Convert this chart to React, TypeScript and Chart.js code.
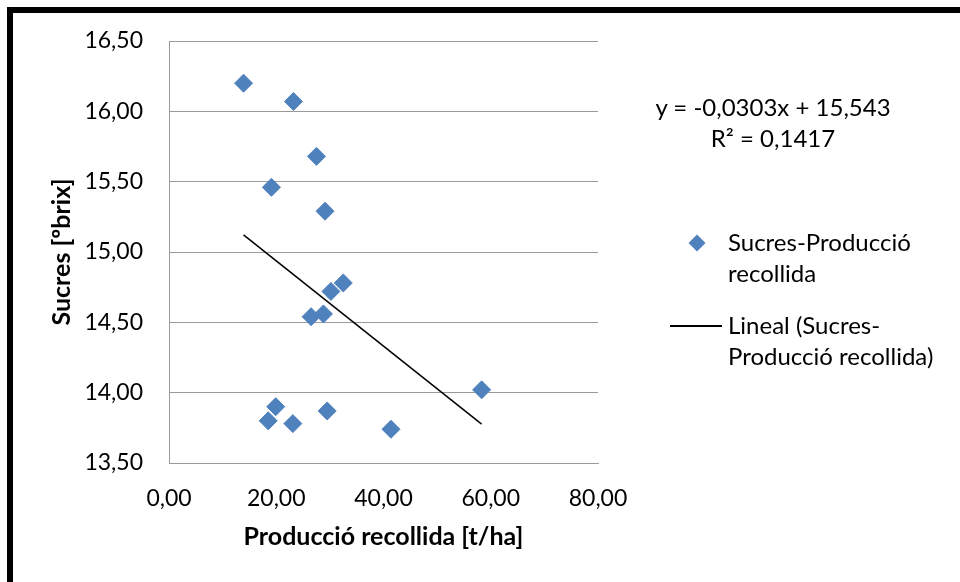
import React, { useEffect, useRef } from "react";
import { Chart, registerables } from "chart.js";

Chart.register(...registerables);

// Data
const produccio: number[] = [13.9, 23.2, 27.5, 19.1, 29.1, 32.5, 30.2, 26.5, 28.8, 58.3, 19.9, 18.5, 23.1, 29.5, 41.4];
const sucres: number[] = [16.2, 16.07, 15.68, 15.46, 15.29, 14.78, 14.72, 14.54, 14.56, 14.02, 13.9, 13.8, 13.78, 13.87, 13.74];

const trendSlope = -0.0303;
const trendIntercept = 15.543;
const trendR2 = 0.1417;

const xTicks = [0, 20, 40, 60, 80];
const yTicks = [13.5, 14, 14.5, 15, 15.5, 16, 16.5];

const seriesName = "Sucres-Producció recollida";
const xTitle = "Producció recollida [t/ha]";
const yTitle = "Sucres [ºbrix]";

const FONT = "Lato, 'Open Sans', sans-serif";
const BLUE = "rgb(79,129,189)";

const fmt = (v: number, d: number) => v.toFixed(d).replace(".", ",");

export default function App() {
  const ref = useRef<HTMLCanvasElement | null>(null);

  useEffect(() => {
    if (!ref.current) return;
    const pts = produccio.map((x, i) => ({ x, y: sucres[i] }));
    const xmin = Math.min(...produccio);
    const xmax = Math.max(...produccio);
    const trend = [
      { x: xmin, y: trendIntercept + trendSlope * xmin },
      { x: xmax, y: trendIntercept + trendSlope * xmax },
    ];
    const chart = new Chart(ref.current, {
      type: "scatter",
      data: {
        datasets: [
          {
            label: seriesName,
            data: pts,
            pointStyle: "rectRot",
            pointRadius: 9,
            pointBackgroundColor: BLUE,
            pointBorderColor: BLUE,
            pointBorderWidth: 1,
            showLine: false,
            order: 1,
          },
          {
            label: "Lineal (" + seriesName + ")",
            data: trend,
            showLine: true,
            borderColor: "#000",
            borderWidth: 1.5,
            pointRadius: 0,
            order: 0,
          },
        ],
      },
      options: {
        responsive: false,
        animation: false,
        devicePixelRatio: 1,
        layout: { padding: { left: 0, top: 41, right: 362, bottom: 0 } },
        plugins: { legend: { display: false }, tooltip: { enabled: false } },
        scales: {
          x: {
            type: "linear",
            min: 0,
            max: 80,
            afterBuildTicks: (s: any) => {
              s.ticks = xTicks.map((v) => ({ value: v }));
            },
            afterFit: (s: any) => {
              s.height = 119;
            },
            grid: { display: false, drawTicks: false },
            border: { display: true, color: "#9a9a9a", width: 1 },
            ticks: {
              color: "#000",
              padding: 22,
              font: { family: FONT, size: 23 },
              maxRotation: 0,
              callback: (v: any) => fmt(Number(v), 2),
            },
            title: {
              display: true,
              text: xTitle,
              color: "#000",
              font: { family: FONT, size: 25, weight: "bold" },
              padding: { top: 0, bottom: 30 },
            },
          },
          y: {
            type: "linear",
            min: 13.5,
            max: 16.5,
            afterBuildTicks: (s: any) => {
              s.ticks = yTicks.map((v) => ({ value: v }));
            },
            afterFit: (s: any) => {
              s.width = 169;
            },
            grid: { display: true, color: "#9a9a9a", lineWidth: 1, drawTicks: false },
            border: { display: true, color: "#9a9a9a", width: 1 },
            ticks: {
              color: "#000",
              padding: 26,
              font: { family: FONT, size: 23 },
              callback: (v: any) => fmt(Number(v), 2),
            },
            title: {
              display: true,
              text: yTitle,
              color: "#000",
              font: { family: FONT, size: 25, weight: "bold" },
              padding: { top: 47, bottom: 0 },
            },
          },
        },
      },
    });
    return () => chart.destroy();
  }, []);

  const textStyle: React.CSSProperties = {
    position: "absolute",
    fontFamily: FONT,
    fontSize: 24,
    color: "#000",
    whiteSpace: "nowrap",
    lineHeight: "31px",
  };

  return (
    <div style={{ position: "fixed", left: 0, top: 0, width: 960, height: 582, background: "#fff", overflow: "hidden" }}>
      <canvas ref={ref} width={960} height={582} style={{ position: "absolute", left: 0, top: 0 }} />
      <div
        style={{
          position: "absolute",
          left: 7,
          top: 7,
          width: 2000,
          height: 2000,
          borderTop: "6px solid #000",
          borderLeft: "6px solid #000",
          pointerEvents: "none",
        }}
      />
      <div style={{ ...textStyle, left: 773, top: 91, transform: "translateX(-50%)", textAlign: "center" }}>
        y = {fmt(trendSlope, 4)}x + {fmt(trendIntercept, 3)}
        <br />
        R² = {fmt(trendR2, 4)}
      </div>
      <div
        style={{
          position: "absolute",
          left: 691,
          top: 237,
          width: 12,
          height: 12,
          background: BLUE,
          transform: "rotate(45deg)",
        }}
      />
      <div style={{ ...textStyle, left: 728, top: 226 }}>
        Sucres-Producció
        <br />
        recollida
      </div>
      <div style={{ position: "absolute", left: 670, top: 325, width: 52, height: 1.5, background: "#000" }} />
      <div style={{ ...textStyle, left: 728, top: 309 }}>
        Lineal (Sucres-
        <br />
        Producció recollida)
      </div>
    </div>
  );
}
